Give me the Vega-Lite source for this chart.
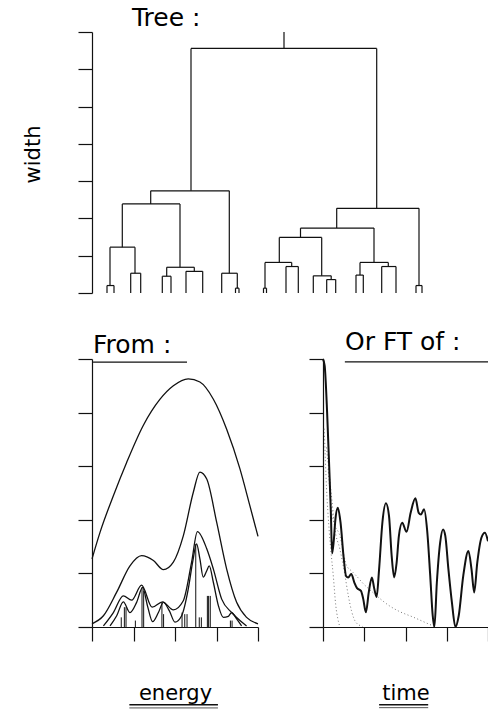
{
  "$schema": "https://vega.github.io/schema/vega-lite/v6.json",
  "padding": {"left": 22, "top": 6, "right": 0, "bottom": 0},
  "background": "white",
  "config": {
    "view": {"stroke": null},
    "font": "DejaVu Sans",
    "axis": {"labels": false, "grid": false, "domainColor": "#111", "tickColor": "#111", "domainWidth": 1.2, "tickWidth": 1.2, "tickSize": 14, "titleFont": "DejaVu Sans", "titleFontWeight": 400, "titleFontSize": 21, "titleColor": "#000"},
    "title": {"font": "DejaVu Sans", "fontWeight": 400, "fontSize": 25, "color": "#000", "anchor": "start", "frame": "group", "baseline": "alphabetic"}
  },
  "bounds": "flush",
  "spacing": 66,
  "datasets": {
    "tree": [
      {"x": 192, "x2": 192, "y": 6.56, "y2": 7.0},
      {"x": 99, "x2": 284.7, "y": 6.56, "y2": 6.56},
      {"x": 99, "x2": 99, "y": 6.56, "y2": 2.74},
      {"x": 58.7, "x2": 137.3, "y": 2.74, "y2": 2.74},
      {"x": 58.7, "x2": 58.7, "y": 2.74, "y2": 2.39},
      {"x": 30.3, "x2": 88, "y": 2.39, "y2": 2.39},
      {"x": 30.3, "x2": 30.3, "y": 2.39, "y2": 1.23},
      {"x": 18, "x2": 43, "y": 1.23, "y2": 1.23},
      {"x": 18, "x2": 18, "y": 1.23, "y2": 0.2},
      {"x": 15, "x2": 22, "y": 0.2, "y2": 0.2},
      {"x": 15, "x2": 15, "y": 0.2, "y2": 0},
      {"x": 22, "x2": 22, "y": 0.2, "y2": 0},
      {"x": 43, "x2": 43, "y": 1.23, "y2": 0.53},
      {"x": 38.7, "x2": 48.7, "y": 0.53, "y2": 0.53},
      {"x": 38.7, "x2": 38.7, "y": 0.53, "y2": 0},
      {"x": 48.7, "x2": 48.7, "y": 0.53, "y2": 0},
      {"x": 88, "x2": 88, "y": 2.39, "y2": 0.69},
      {"x": 74.7, "x2": 102.3, "y": 0.69, "y2": 0.69},
      {"x": 74.7, "x2": 74.7, "y": 0.69, "y2": 0.45},
      {"x": 70.3, "x2": 79, "y": 0.45, "y2": 0.45},
      {"x": 70.3, "x2": 70.3, "y": 0.45, "y2": 0},
      {"x": 79, "x2": 79, "y": 0.45, "y2": 0},
      {"x": 102.3, "x2": 102.3, "y": 0.69, "y2": 0.58},
      {"x": 94, "x2": 110.7, "y": 0.58, "y2": 0.58},
      {"x": 94, "x2": 94, "y": 0.58, "y2": 0},
      {"x": 110.7, "x2": 110.7, "y": 0.58, "y2": 0},
      {"x": 137.3, "x2": 137.3, "y": 2.74, "y2": 0.53},
      {"x": 129.7, "x2": 145.3, "y": 0.53, "y2": 0.53},
      {"x": 129.7, "x2": 129.7, "y": 0.53, "y2": 0},
      {"x": 145.3, "x2": 145.3, "y": 0.53, "y2": 0.13},
      {"x": 143.5, "x2": 147, "y": 0.13, "y2": 0.13},
      {"x": 143.5, "x2": 143.5, "y": 0.13, "y2": 0},
      {"x": 147, "x2": 147, "y": 0.13, "y2": 0},
      {"x": 284.7, "x2": 284.7, "y": 6.56, "y2": 2.27},
      {"x": 244.7, "x2": 327, "y": 2.27, "y2": 2.27},
      {"x": 244.7, "x2": 244.7, "y": 2.27, "y2": 1.74},
      {"x": 208.5, "x2": 282, "y": 1.74, "y2": 1.74},
      {"x": 208.5, "x2": 208.5, "y": 1.74, "y2": 1.49},
      {"x": 187.3, "x2": 229.7, "y": 1.49, "y2": 1.49},
      {"x": 187.3, "x2": 187.3, "y": 1.49, "y2": 0.82},
      {"x": 173, "x2": 199.7, "y": 0.82, "y2": 0.82},
      {"x": 173, "x2": 173, "y": 0.82, "y2": 0.13},
      {"x": 171.5, "x2": 174.5, "y": 0.13, "y2": 0.13},
      {"x": 171.5, "x2": 171.5, "y": 0.13, "y2": 0},
      {"x": 174.5, "x2": 174.5, "y": 0.13, "y2": 0},
      {"x": 199.7, "x2": 199.7, "y": 0.82, "y2": 0.71},
      {"x": 194, "x2": 206.3, "y": 0.71, "y2": 0.71},
      {"x": 194, "x2": 194, "y": 0.71, "y2": 0},
      {"x": 206.3, "x2": 206.3, "y": 0.71, "y2": 0},
      {"x": 229.7, "x2": 229.7, "y": 1.49, "y2": 0.46},
      {"x": 221.3, "x2": 239.2, "y": 0.46, "y2": 0.46},
      {"x": 221.3, "x2": 221.3, "y": 0.46, "y2": 0},
      {"x": 239.2, "x2": 239.2, "y": 0.46, "y2": 0.36},
      {"x": 234.7, "x2": 243.7, "y": 0.36, "y2": 0.36},
      {"x": 234.7, "x2": 234.7, "y": 0.36, "y2": 0},
      {"x": 243.7, "x2": 243.7, "y": 0.36, "y2": 0},
      {"x": 282, "x2": 282, "y": 1.74, "y2": 0.82},
      {"x": 268, "x2": 296.3, "y": 0.82, "y2": 0.82},
      {"x": 268, "x2": 268, "y": 0.82, "y2": 0.48},
      {"x": 264, "x2": 271.3, "y": 0.48, "y2": 0.48},
      {"x": 264, "x2": 264, "y": 0.48, "y2": 0},
      {"x": 271.3, "x2": 271.3, "y": 0.48, "y2": 0},
      {"x": 296.3, "x2": 296.3, "y": 0.82, "y2": 0.71},
      {"x": 289.7, "x2": 304, "y": 0.71, "y2": 0.71},
      {"x": 289.7, "x2": 289.7, "y": 0.71, "y2": 0},
      {"x": 304, "x2": 304, "y": 0.71, "y2": 0},
      {"x": 327, "x2": 327, "y": 2.27, "y2": 0.2},
      {"x": 324, "x2": 330, "y": 0.2, "y2": 0.2},
      {"x": 324, "x2": 324, "y": 0.2, "y2": 0},
      {"x": 330, "x2": 330, "y": 0.2, "y2": 0}
    ],
    "spectra": [
      {"s": "a", "e": 0, "v": 1.27}, {"s": "a", "e": 0.39, "v": 1.77}, {"s": "a", "e": 1.03, "v": 2.45}, {"s": "a", "e": 1.67, "v": 3.07}, {"s": "a", "e": 2.47, "v": 3.76}, {"s": "a", "e": 3.28, "v": 4.25}, {"s": "a", "e": 3.92, "v": 4.5}, {"s": "a", "e": 4.64, "v": 4.63}, {"s": "a", "e": 5.2, "v": 4.57}, {"s": "a", "e": 5.85, "v": 4.25}, {"s": "a", "e": 6.49, "v": 3.69}, {"s": "a", "e": 7.13, "v": 2.95}, {"s": "a", "e": 7.61, "v": 2.26}, {"s": "a", "e": 8.0, "v": 1.69},
      {"s": "b", "e": 0, "v": 0.06}, {"s": "b", "e": 0.55, "v": 0.21}, {"s": "b", "e": 1.19, "v": 0.65}, {"s": "b", "e": 1.83, "v": 1.14}, {"s": "b", "e": 2.39, "v": 1.33}, {"s": "b", "e": 2.96, "v": 1.24}, {"s": "b", "e": 3.44, "v": 1.07}, {"s": "b", "e": 3.92, "v": 1.21}, {"s": "b", "e": 4.4, "v": 1.7}, {"s": "b", "e": 4.88, "v": 2.51}, {"s": "b", "e": 5.2, "v": 2.89}, {"s": "b", "e": 5.53, "v": 2.76}, {"s": "b", "e": 6.01, "v": 1.95}, {"s": "b", "e": 6.49, "v": 1.08}, {"s": "b", "e": 6.97, "v": 0.46}, {"s": "b", "e": 7.45, "v": 0.18}, {"s": "b", "e": 8.0, "v": 0.06},
      {"s": "c", "e": 0.55, "v": 0.02}, {"s": "c", "e": 1.03, "v": 0.27}, {"s": "c", "e": 1.51, "v": 0.58}, {"s": "c", "e": 1.91, "v": 0.5}, {"s": "c", "e": 2.39, "v": 0.78}, {"s": "c", "e": 2.9, "v": 0.37}, {"s": "c", "e": 3.4, "v": 0.47}, {"s": "c", "e": 3.92, "v": 0.32}, {"s": "c", "e": 4.4, "v": 0.49}, {"s": "c", "e": 4.8, "v": 1.21}, {"s": "c", "e": 5.08, "v": 1.78}, {"s": "c", "e": 5.53, "v": 1.46}, {"s": "c", "e": 5.85, "v": 1.08}, {"s": "c", "e": 6.25, "v": 0.52}, {"s": "c", "e": 6.73, "v": 0.27}, {"s": "c", "e": 7.13, "v": 0.12}, {"s": "c", "e": 7.45, "v": 0.02},
      {"s": "d", "e": 0.87, "v": 0.02}, {"s": "d", "e": 1.19, "v": 0.21}, {"s": "d", "e": 1.51, "v": 0.47}, {"s": "d", "e": 1.83, "v": 0.27}, {"s": "d", "e": 2.15, "v": 0.46}, {"s": "d", "e": 2.44, "v": 0.74}, {"s": "d", "e": 2.67, "v": 0.4}, {"s": "d", "e": 2.92, "v": 0.1}, {"s": "d", "e": 3.2, "v": 0.27}, {"s": "d", "e": 3.44, "v": 0.46}, {"s": "d", "e": 3.73, "v": 0.3}, {"s": "d", "e": 4.0, "v": 0.09}, {"s": "d", "e": 4.32, "v": 0.21}, {"s": "d", "e": 4.64, "v": 0.71}, {"s": "d", "e": 4.85, "v": 1.21}, {"s": "d", "e": 5.04, "v": 1.55}, {"s": "d", "e": 5.2, "v": 1.27}, {"s": "d", "e": 5.36, "v": 0.93}, {"s": "d", "e": 5.53, "v": 1.05}, {"s": "d", "e": 5.65, "v": 1.14}, {"s": "d", "e": 5.85, "v": 0.83}, {"s": "d", "e": 6.09, "v": 0.4}, {"s": "d", "e": 6.33, "v": 0.18}, {"s": "d", "e": 6.57, "v": 0.2}, {"s": "d", "e": 6.73, "v": 0.27}, {"s": "d", "e": 6.97, "v": 0.15}, {"s": "d", "e": 7.21, "v": 0.02}
    ],
    "sticks": [
      {"e": 1.41, "v": 0.18}, {"e": 1.56, "v": 0.37}, {"e": 1.64, "v": 0.37}, {"e": 2.09, "v": 0.12}, {"e": 2.41, "v": 0.74}, {"e": 2.49, "v": 0.68}, {"e": 3.37, "v": 0.46}, {"e": 3.45, "v": 0.24}, {"e": 4.34, "v": 0.27}, {"e": 4.47, "v": 0.24}, {"e": 4.58, "v": 0.24}, {"e": 5.0, "v": 1.55}, {"e": 5.17, "v": 0.18}, {"e": 5.27, "v": 0.18}, {"e": 5.56, "v": 0.58}, {"e": 5.62, "v": 0.58}, {"e": 5.7, "v": 0.58}, {"e": 6.67, "v": 0.12}, {"e": 6.75, "v": 0.12}
    ],
    "ft": [
      {"t": 0.0, "a": 10.0}, {"t": 0.08, "a": 9.75}, {"t": 0.2, "a": 8.0}, {"t": 0.3, "a": 6.0}, {"t": 0.38, "a": 4.3}, {"t": 0.44, "a": 2.75}, {"t": 0.52, "a": 3.2}, {"t": 0.6, "a": 4.0}, {"t": 0.72, "a": 4.45}, {"t": 0.85, "a": 3.9}, {"t": 1.0, "a": 2.6}, {"t": 1.12, "a": 1.9}, {"t": 1.22, "a": 1.85}, {"t": 1.37, "a": 1.98}, {"t": 1.52, "a": 1.66}, {"t": 1.65, "a": 1.45}, {"t": 1.84, "a": 1.35}, {"t": 1.95, "a": 1.05}, {"t": 2.08, "a": 0.55}, {"t": 2.22, "a": 1.3}, {"t": 2.37, "a": 1.85}, {"t": 2.48, "a": 1.45}, {"t": 2.6, "a": 1.12}, {"t": 2.72, "a": 2.16}, {"t": 2.88, "a": 3.9}, {"t": 3.05, "a": 4.62}, {"t": 3.2, "a": 4.15}, {"t": 3.33, "a": 2.65}, {"t": 3.45, "a": 1.85}, {"t": 3.57, "a": 2.4}, {"t": 3.68, "a": 3.4}, {"t": 3.84, "a": 3.89}, {"t": 4.05, "a": 3.55}, {"t": 4.25, "a": 4.26}, {"t": 4.48, "a": 4.8}, {"t": 4.64, "a": 4.26}, {"t": 4.75, "a": 4.2}, {"t": 4.9, "a": 4.39}, {"t": 5.05, "a": 3.6}, {"t": 5.2, "a": 1.9}, {"t": 5.32, "a": 0.42}, {"t": 5.4, "a": 0.0}, {"t": 5.52, "a": 1.66}, {"t": 5.68, "a": 3.15}, {"t": 5.82, "a": 3.64}, {"t": 5.93, "a": 3.4}, {"t": 6.08, "a": 2.16}, {"t": 6.25, "a": 0.92}, {"t": 6.42, "a": 0.0}, {"t": 6.58, "a": 0.42}, {"t": 6.8, "a": 1.91}, {"t": 7.05, "a": 2.84}, {"t": 7.2, "a": 2.16}, {"t": 7.33, "a": 1.29}, {"t": 7.48, "a": 2.4}, {"t": 7.68, "a": 3.33}, {"t": 7.85, "a": 3.52}, {"t": 8.0, "a": 3.2}
    ],
    "ftdots": [
      {"s": "A", "t": 0.06, "a": 7.4}, {"s": "A", "t": 0.17, "a": 5.2}, {"s": "A", "t": 0.29, "a": 3.7}, {"s": "A", "t": 0.4, "a": 2.7}, {"s": "A", "t": 0.5, "a": 1.9}, {"s": "A", "t": 0.62, "a": 0.8}, {"s": "A", "t": 0.72, "a": 0.3}, {"s": "A", "t": 0.8, "a": 0.05},
      {"s": "B", "t": 0.17, "a": 6.7}, {"s": "B", "t": 0.41, "a": 4.9}, {"s": "B", "t": 0.58, "a": 3.64}, {"s": "B", "t": 0.82, "a": 2.9}, {"s": "B", "t": 1.06, "a": 1.95}, {"s": "B", "t": 1.22, "a": 1.2}, {"s": "B", "t": 1.38, "a": 0.61}, {"s": "B", "t": 1.6, "a": 0.17}, {"s": "B", "t": 1.92, "a": 0.02},
      {"s": "C", "t": 0.25, "a": 5.9}, {"s": "C", "t": 0.49, "a": 4.0}, {"s": "C", "t": 0.82, "a": 3.4}, {"s": "C", "t": 1.14, "a": 2.3}, {"s": "C", "t": 1.4, "a": 2.08}, {"s": "C", "t": 1.65, "a": 1.88}, {"s": "C", "t": 1.95, "a": 1.62}, {"s": "C", "t": 2.4, "a": 1.3}, {"s": "C", "t": 2.7, "a": 1.1}, {"s": "C", "t": 3.2, "a": 0.8}, {"s": "C", "t": 3.65, "a": 0.6}, {"s": "C", "t": 4.4, "a": 0.36}, {"s": "C", "t": 5.1, "a": 0.12}, {"s": "C", "t": 5.4, "a": 0.02}
    ]
  },
  "vconcat": [
    {
      "width": 340,
      "height": 261,
      "title": {"text": "Tree :", "dx": 40, "offset": 0},
      "data": {"name": "tree"},
      "mark": {"type": "rule", "color": "#111", "strokeWidth": 1.2},
      "encoding": {
        "x": {"field": "x", "type": "quantitative", "scale": {"domain": [0, 340], "nice": false}, "axis": null},
        "x2": {"field": "x2"},
        "y": {"field": "y", "type": "quantitative", "scale": {"domain": [0, 7], "nice": false}, "axis": {"values": [0, 1, 2, 3, 4, 5, 6, 7], "title": "width", "titlePadding": 34, "titleY": 122}},
        "y2": {"field": "y2"}
      }
    },
    {
      "hconcat": [
        {
          "width": 166,
          "height": 268,
          "title": {"text": "From :", "dx": 1, "offset": 0},
          "layer": [
            {
              "data": {"name": "spectra"},
              "mark": {"type": "line", "interpolate": "monotone", "color": "#111", "strokeWidth": 1.3},
              "encoding": {
                "x": {"field": "e", "type": "quantitative", "scale": {"domain": [0, 8], "nice": false}, "axis": {"values": [0, 1, 2, 3, 4, 5, 6, 7, 8], "title": "energy", "titlePadding": 58, "titleBaseline": "alphabetic"}},
                "y": {"field": "v", "type": "quantitative", "scale": {"domain": [0, 5], "nice": false}, "axis": {"values": [0, 1, 2, 3, 4, 5], "title": null}},
                "detail": {"field": "s"}
              }
            },
            {
              "data": {"name": "sticks"},
              "mark": {"type": "rule", "color": "#111", "strokeWidth": 1},
              "encoding": {
                "x": {"field": "e", "type": "quantitative"},
                "y": {"field": "v", "type": "quantitative"},
                "y2": {"datum": 0}
              }
            },
            {
              "data": {"values": [{}]},
              "mark": {"type": "rule", "color": "#111", "strokeWidth": 1.3},
              "encoding": {"x": {"datum": 0.05}, "x2": {"datum": 4.58}, "y": {"datum": 4.94}}
            },
            {
              "data": {"values": [{}]},
              "mark": {"type": "rule", "color": "#111", "strokeWidth": 1.6},
              "encoding": {"x": {"datum": 1.8}, "x2": {"datum": 6.07}, "y": {"datum": -1.45}}
            },
            {
              "data": {"values": [{}]},
              "mark": {"type": "rule", "color": "#555", "strokeWidth": 1},
              "encoding": {"x": {"datum": 1.8}, "x2": {"datum": 6.07}, "y": {"datum": -1.51}}
            }
          ]
        },
        {
          "width": 165,
          "height": 268,
          "title": {"text": "Or FT of :", "dx": 22, "offset": 0},
          "layer": [
            {
              "data": {"name": "ftdots"},
              "mark": {"type": "line", "interpolate": "monotone", "color": "#777", "strokeWidth": 1, "strokeDash": [1, 2.5]},
              "encoding": {
                "x": {"field": "t", "type": "quantitative", "scale": {"domain": [0, 8], "nice": false}, "axis": {"values": [0, 1, 2, 3, 4, 5, 6, 7, 8], "title": "time", "titlePadding": 58, "titleBaseline": "alphabetic"}},
                "y": {"field": "a", "type": "quantitative", "scale": {"domain": [0, 10], "nice": false}, "axis": {"values": [0, 1, 2, 3, 4, 5, 6, 7, 8, 9, 10], "title": null}},
                "detail": {"field": "s"}
              }
            },
            {
              "data": {"name": "ft"},
              "mark": {"type": "line", "interpolate": "monotone", "color": "#111", "strokeWidth": 2},
              "encoding": {
                "x": {"field": "t", "type": "quantitative"},
                "y": {"field": "a", "type": "quantitative"}
              }
            },
            {
              "data": {"values": [{}]},
              "mark": {"type": "rule", "color": "#111", "strokeWidth": 1.3},
              "encoding": {"x": {"datum": 1.06}, "x2": {"datum": 8}, "y": {"datum": 9.89}}
            },
            {
              "data": {"values": [{}]},
              "mark": {"type": "rule", "color": "#111", "strokeWidth": 1.6},
              "encoding": {"x": {"datum": 2.72}, "x2": {"datum": 5.1}, "y": {"datum": -2.9}}
            },
            {
              "data": {"values": [{}]},
              "mark": {"type": "rule", "color": "#555", "strokeWidth": 1},
              "encoding": {"x": {"datum": 2.72}, "x2": {"datum": 5.1}, "y": {"datum": -3.01}}
            }
          ]
        }
      ],
      "spacing": 65,
      "bounds": "flush"
    }
  ]
}
